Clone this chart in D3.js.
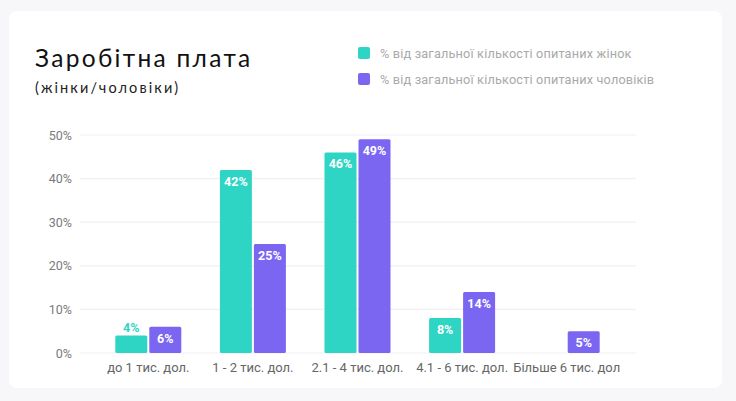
<!DOCTYPE html>
<html><head><meta charset="utf-8">
<script src="https://cdn.jsdelivr.net/npm/d3@7"></script>
<style>
html,body{margin:0;padding:0;background:#f7f7fa;}
svg{display:block;}
</style></head>
<body><svg id="c" width="736" height="401"></svg>
<script>
const categories = ["до 1 тис. дол.", "1 - 2 тис. дол.", "2.1 - 4 тис. дол.", "4.1 - 6 тис. дол.", "Більше 6 тис. дол"];
const women = [4, 42, 46, 8, null];
const men = [6, 25, 49, 14, 5];
const seriesNames = ["% від загальної кількості опитаних жінок", "% від загальної кількості опитаних чоловіків"];
const yTicks = [0, 10, 20, 30, 40, 50];
const colors = ["#2fd5c4", "#7b66f2"];

const svg = d3.select("#c");
svg.append("rect").attr("x", 9).attr("y", 11).attr("width", 713).attr("height", 377)
  .attr("rx", 8).attr("fill", "#ffffff");

const x = d3.scaleBand().domain(categories).range([96, 619]).paddingInner(0).paddingOuter(0);
const y = d3.scaleLinear().domain([0, 50]).range([353, 135]);

// grid
svg.append("g").selectAll("line").data(yTicks).join("line")
  .attr("x1", 80).attr("x2", 636)
  .attr("y1", d => y(d)).attr("y2", d => y(d))
  .attr("stroke", "#f0f0f3").attr("stroke-width", 1.2);

// y axis labels
const yAxis = d3.axisLeft(y).tickValues(yTicks).tickFormat(d => d + "%").tickSize(0).tickPadding(0);
const ya = svg.append("g").attr("transform", "translate(72,0)").call(yAxis);
ya.select(".domain").remove();
ya.selectAll("text").attr("font-family", "Roboto, sans-serif").attr("font-size", 12.5).attr("fill", "#7a7a7a");

// x axis labels
const xAxis = d3.axisBottom(x).tickSize(0).tickPadding(0);
const xa = svg.append("g").attr("transform", "translate(0,360)").call(xAxis);
xa.select(".domain").remove();
xa.selectAll("text").attr("font-family", "Roboto, sans-serif").attr("font-size", 13).attr("fill", "#666").attr("dy", "0.9em");

const barW = 32, gap = 2;
const series = [women, men];
series.forEach((vals, si) => {
  const g = svg.append("g");
  const data = categories.map((c, i) => ({c, v: vals[i]})).filter(d => d.v != null);
  const bx = d => x(d.c) + x.bandwidth() / 2 + (si === 0 ? -barW - gap / 2 : gap / 2);
  g.selectAll("rect").data(data).join("rect")
    .attr("x", bx).attr("y", d => y(d.v)).attr("width", barW).attr("height", d => y(0) - y(d.v))
    .attr("rx", 1.5).attr("fill", colors[si]);
  g.selectAll("text").data(data).join("text")
    .attr("x", d => bx(d) + barW / 2)
    .attr("y", d => (y(0) - y(d.v)) < 22 && si === 0 ? y(d.v) - 4 : y(d.v) + 16)
    .attr("text-anchor", "middle")
    .attr("font-family", "Roboto, sans-serif").attr("font-weight", "bold").attr("font-size", 12.5)
    .attr("fill", d => (y(0) - y(d.v)) < 22 && si === 0 ? colors[si] : "#fff")
    .text(d => d.v + "%");
});

// title
svg.append("text").attr("x", 35).attr("y", 67).text("Заробітна плата")
  .attr("font-family", "Lato, 'Open Sans', sans-serif").attr("font-size", 24.5).attr("letter-spacing", 2.3).attr("fill", "#111");
svg.append("text").attr("x", 35).attr("y", 93).text("(жінки/чоловіки)")
  .attr("font-family", "Lato, 'Open Sans', sans-serif").attr("font-size", 14.5).attr("letter-spacing", 2.1).attr("fill", "#222");

// legend
const lg = svg.append("g");
seriesNames.forEach((n, i) => {
  lg.append("rect").attr("x", 358).attr("y", 47 + i * 26).attr("width", 12).attr("height", 12).attr("rx", 2).attr("fill", colors[i]);
  lg.append("text").attr("x", 380).attr("y", 58 + i * 26).text(n)
    .attr("font-family", "Roboto, sans-serif").attr("font-size", 12.7).attr("letter-spacing", 0.18).attr("fill", "#a9a9a9");
});
</script></body></html>
